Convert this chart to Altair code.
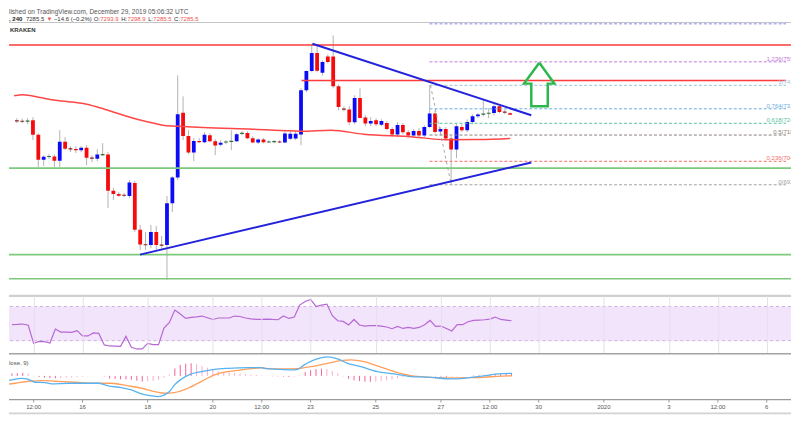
import altair as alt
import pandas as pd
import numpy as np

FONT = "Liberation Sans, Arial, DejaVu Sans, sans-serif"

# ---------------- data (time = hours from 2019-12-16 00:00, 4h candles) ----------------
candle_hours = list(range(-52, 317, 4))
opens = [7254.6, 7253.6, 7250.5, 7257.2, 7182.5, 7053.6, 7069.1, 7070.1, 7048.4, 7146.4,
         7110.3, 7108.7, 7102.6, 7114.4, 7063.9, 7058.7, 7079.3, 7080.4, 6892.7, 6875.7,
         6870.6, 6865.4, 6932.4, 6691.7, 6614.4, 6612.8, 6679.8, 6612.8, 6612.8, 6827.8,
         6961.8, 7295.9, 7176.3, 7090.7, 7150.5, 7143.8, 7179.9, 7149.0, 7130.9, 7143.8,
         7146.4, 7149.0, 7187.6, 7191.7, 7164.4, 7142.3, 7157.7, 7143.8, 7145.4, 7147.4,
         7142.3, 7161.8, 7162.9, 7183.5, 7411.9, 7511.3, 7604.1, 7503.1, 7587.1, 7587.1,
         7432.5, 7316.5, 7312.4, 7246.9, 7372.2, 7271.1, 7240.2, 7257.2, 7234.0, 7243.3,
         7212.4, 7183.5, 7233.0, 7195.4, 7178.3, 7202.0, 7178.3, 7222.7, 7291.7, 7199.0,
         7212.4, 7162.9, 7106.1, 7222.7, 7205.7, 7248.4, 7277.8, 7286.6, 7291.7, 7294.8,
         7329.4, 7300.0, 7293.9]
highs = [7267.5, 7264.9, 7267.5, 7272.7, 7190.2, 7076.8, 7081.9, 7079.3, 7205.7, 7169.6,
         7123.2, 7123.2, 7123.2, 7128.3, 7076.8, 7107.7, 7138.6, 7092.2, 6906.7, 6886.0,
         6880.9, 6947.9, 6942.7, 6716.0, 6679.8, 6716.0, 6710.8, 6659.2, 6865.4, 6968.5,
         7489.2, 7380.9, 7205.7, 7164.4, 7164.4, 7195.4, 7190.2, 7159.3, 7154.1, 7154.1,
         7205.7, 7190.2, 7200.5, 7200.5, 7174.7, 7164.4, 7164.4, 7154.1, 7154.1, 7154.1,
         7200.5, 7200.5, 7200.5, 7422.2, 7515.0, 7651.6, 7649.0, 7566.5, 7597.4, 7695.4,
         7442.8, 7329.4, 7329.4, 7386.1, 7422.2, 7283.0, 7272.7, 7267.5, 7262.3, 7252.1,
         7221.1, 7246.9, 7241.7, 7205.7, 7210.8, 7215.9, 7231.4, 7437.6, 7308.8, 7221.1,
         7221.1, 7174.7, 7236.6, 7236.6, 7262.3, 7288.1, 7293.3, 7360.3, 7319.1, 7339.7,
         7339.7, 7313.9, 7298.9]
lows = [7241.7, 7241.7, 7236.6, 7154.1, 7014.9, 7020.1, 7056.2, 7014.9, 7014.9, 7102.6,
        7092.2, 7087.1, 7092.2, 7025.2, 7040.7, 7045.8, 7071.6, 6803.6, 6844.8, 6860.3,
        6860.3, 6855.1, 6679.8, 6587.1, 6587.1, 6597.3, 6587.1, 6587.1, 6432.4, 6782.9,
        6947.9, 7154.1, 7081.9, 7045.8, 7138.6, 7138.6, 7143.8, 7076.8, 7123.2, 7133.5,
        7102.6, 7143.8, 7179.9, 7159.3, 7138.6, 7133.5, 7138.6, 7138.6, 7138.6, 7138.6,
        7138.6, 7154.1, 7154.1, 7128.3, 7401.5, 7504.6, 7504.6, 7489.2, 7551.0, 7422.2,
        7308.8, 7303.6, 7231.4, 7236.6, 7267.5, 7226.3, 7226.3, 7226.3, 7226.3, 7205.7,
        7169.6, 7169.6, 7185.0, 7164.4, 7169.6, 7169.6, 7169.6, 7215.9, 7190.2, 7179.9,
        7154.1, 6923.7, 7061.3, 7195.4, 7195.4, 7236.6, 7267.5, 7277.8, 7267.5, 7283.0,
        7293.3, 7288.1, 7285.5]
closes = [7253.6, 7250.5, 7254.6, 7182.5, 7053.6, 7069.1, 7070.1, 7048.4, 7146.4, 7110.3,
          7108.7, 7102.6, 7114.4, 7063.9, 7058.7, 7080.4, 7080.4, 6892.7, 6875.7, 6867.0,
          6868.0, 6936.0, 6691.7, 6614.4, 6612.8, 6679.8, 6612.8, 6611.3, 6827.8, 6960.8,
          7288.1, 7176.3, 7090.7, 7150.5, 7143.8, 7182.5, 7149.0, 7126.8, 7140.2, 7145.4,
          7149.0, 7185.0, 7191.7, 7164.4, 7142.3, 7157.7, 7143.8, 7145.4, 7147.4, 7142.3,
          7188.7, 7187.6, 7187.6, 7411.9, 7511.3, 7604.1, 7513.4, 7557.7, 7557.7, 7432.5,
          7325.8, 7312.4, 7246.9, 7372.2, 7269.0, 7240.2, 7253.6, 7236.6, 7253.6, 7212.4,
          7183.5, 7233.0, 7195.4, 7178.3, 7202.0, 7178.3, 7222.7, 7291.7, 7196.9, 7212.4,
          7162.9, 7106.1, 7226.3, 7205.7, 7248.4, 7277.8, 7286.6, 7291.7, 7294.8, 7329.4,
          7300.0, 7298.4, 7285.5]

ma_hours = [-54.1, -47.5, -35.8, -23.3, 0.2, 13.4, 37.7, 50.2, 59.7, 72.2, 86.9, 123.7,
            160.4, 182.4, 206.7, 243.4, 268.4, 292.6, 316.1]
ma_values = [7383.5, 7388.6, 7375.8, 7360.3, 7339.7, 7313.9, 7262.4, 7241.7, 7228.8, 7224.7,
             7219.5, 7210.8, 7200.5, 7205.7, 7185.0, 7171.1, 7156.7, 7157.7, 7162.9]

resistance_full = [7646.4]
resistance_partial = [7462.4]
resistance_partial_start = [160.4]
support_levels = [7009.8, 6562.8, 6437.6]

trend_names = ["upper", "upper", "lower", "lower"]
trend_hours = [168.5, 331.8, 39.9, 331.8]
trend_prices = [7652.6, 7283.0, 6562.8, 7039.1]

fib_ratios = ["0", "0.236", "0.5", "0.618", "0.764", "1", "1.236", "1.618"]
fib_prices = [6923.7, 7045.0, 7180.7, 7241.3, 7316.3, 7437.6, 7558.9, 7755.4]
fib_palette = ["#a3a3a3", "#f26d6d", "#8a7d7d", "#5cc49b", "#6aaede", "#9fc3dc", "#bf79df", "#8a8af2"]
fib_start_hour = 255.9
fib_label_hour = 535.1
fib_diag_hours = [256.6, 272.1]
fib_diag_prices = [7437.6, 6923.7]

arrow_hours = [337.8, 349.0, 344.1, 344.1, 331.8, 331.8, 326.4, 337.8]
arrow_prices = [7554.6, 7446.4, 7446.4, 7329.4, 7329.4, 7446.4, 7446.4, 7554.6]

rsi_values = [48.7, 49.0, 49.5, 48.0, 26.9, 29.2, 28.8, 27.3, 43.6, 40.1,
              40.1, 39.7, 41.7, 35.5, 35.5, 39.0, 38.5, 25.0, 23.8, 23.6,
              23.4, 35.0, 22.2, 20.3, 20.3, 26.9, 25.3, 25.3, 44.8, 51.3,
              65.8, 61.1, 56.0, 57.2, 57.8, 58.8, 56.8, 54.8, 56.5, 56.5,
              56.5, 58.8, 58.3, 56.5, 55.5, 54.8, 54.8, 55.3, 54.8, 54.5,
              58.8, 56.0, 57.6, 71.6, 75.8, 78.2, 70.0, 71.6, 72.8, 59.2,
              53.3, 52.5, 48.3, 54.8, 48.3, 47.1, 47.5, 47.5, 47.1, 46.0,
              44.0, 46.7, 44.3, 45.5, 44.3, 45.5, 48.7, 53.7, 46.7, 47.1,
              44.3, 41.3, 48.7, 48.7, 52.2, 53.7, 54.1, 54.5, 55.3, 57.6,
              54.8, 54.0, 53.3]

macd_hours = [-59.5, -52.2, -44.8, -39.9, -35.0, -27.7, -22.8, -10.5, 0.5, 11.5, 18.9, 28.7,
              36.0, 43.4, 50.7, 55.6, 60.5, 64.1, 67.8, 72.7, 80.1, 87.4, 97.2, 107.0, 121.7,
              131.5, 133.9, 143.8, 153.6, 158.5, 163.3, 170.7, 180.5, 187.9, 195.2, 205.0,
              217.2, 229.4, 241.7, 256.4, 271.1, 280.9, 295.6, 305.4, 316.4]
macd_values = [-50, -40, -24, -34, -64, -67, -80, -74, -74, -74, -100, -117, -140, -180, -200,
               -207, -190, -157, -90, -34, 20, 43, 66, 76, 83, 83, 76, 66, 60, 66, 110, 160,
               190, 170, 126, 93, 43, 20, -7, -14, -30, -24, 0, 20, 26]
signal_hours = [-59.5, -49.7, -39.9, -30.1, -20.4, -5.7, 9.0, 21.3, 33.6, 43.4, 53.1, 60.5,
                67.8, 77.7, 87.4, 97.2, 107.0, 116.8, 131.5, 136.4, 148.6, 158.5, 168.2, 180.5,
                190.3, 197.6, 207.4, 217.2, 229.4, 241.7, 256.4, 271.1, 285.8, 295.6, 305.4, 316.4]
signal_values = [-90, -74, -54, -47, -54, -64, -74, -74, -100, -124, -157, -174, -167, -124,
                 -57, 10, 43, 60, 80, 73, 70, 73, 93, 126, 153, 160, 143, 100, 43, 3, -14, -20,
                 -17, -14, -4, 0]
hist_values = [25, 28, 30, 25, -5, -12, -18, -22, -25, -22,
               -18, -15, -12, -8, -5, -3, -2, -5, -28, -30,
               -35, -35, -38, -48, -58, -55, -50, -40, -18, 15,
               75, 110, 122, 126, 118, 100, 82, 62, 48, 40,
               34, 30, 24, 18, 15, 12, 5, 3, -3, -5,
               -7, -10, -8, 5, 38, 58, 68, 72, 70, 48,
               25, -5, -30, -45, -52, -58, -60, -58, -52, -45,
               -35, -25, -15, -10, -8, -6, -5, -4, -6, -8,
               -10, -8, -5, -3, -2, 4, 6, 10, 12, 16,
               19, 22, 24]

tick_hours = [-36, 0, 48, 96, 132, 168, 216, 264, 300, 336, 384, 432, 468, 504]
tick_labels = ["12:00", "16", "18", "20", "12:00", "23", "25", "27", "12:00", "30",
               "2020", "3", "12:00", "6"]
main_grid_prices = [6400, 6500, 6600, 6700, 6800, 6900, 7000, 7100, 7200, 7300, 7400,
                    7500, 7600, 7700]

# ---------------- layout ----------------
W = 784
H_MAIN, H_RSI, H_MACD = 273, 57, 46
X_DOMAIN = [-54.15, 521.85]
MAIN_DOMAIN = [6355.1, 7762.4]
RSI_DOMAIN = [16.0, 82.5]
MACD_DOMAIN = [-237, 223]
GRID = "#ececec"

def xs(field, axis=None):
    return alt.X(f"{field}:Q", scale=alt.Scale(domain=X_DOMAIN, nice=False, zero=False), axis=axis)

def ys(field, domain, axis=None):
    return alt.Y(f"{field}:Q", scale=alt.Scale(domain=domain, nice=False, zero=False), axis=axis)

def grid_only(values, color=GRID, z=0):
    return alt.Axis(values=values, grid=True, gridColor=color, gridWidth=1, labels=False,
                    ticks=False, domain=False, title=None, minExtent=0, maxExtent=0, zindex=z)

one = pd.DataFrame({"k": [0]})

# ---------- candles ----------
c = pd.DataFrame({"h": candle_hours, "o": opens, "hi": highs, "lo": lows, "c": closes})
d = c["c"] - c["o"]
mid = (c["o"] + c["c"]) / 2
small = d.abs() < 6
c["top"] = np.where(small, mid + 3, np.maximum(c["o"], c["c"]))
c["bot"] = np.where(small, mid - 3, np.minimum(c["o"], c["c"]))
c["kind"] = np.where(d >= 0, np.where(small, "updoji", "up"), np.where(small, "downdoji", "down"))

wicks = alt.Chart(c).mark_rule(color="#b3b3b3", strokeWidth=1, clip=True).encode(
    x=xs("h", grid_only(tick_hours)),
    y=ys("lo", MAIN_DOMAIN, grid_only(main_grid_prices)),
    y2=alt.Y2("hi"))
bodies = alt.Chart(c).mark_bar(size=3.8, clip=True).encode(
    x=xs("h"), y=ys("bot", MAIN_DOMAIN), y2=alt.Y2("top"),
    color=alt.Color("kind:N", legend=None,
                    scale=alt.Scale(domain=["up", "down", "updoji", "downdoji"],
                                    range=["#0b0bf5", "#f50b0b", "#2f6b3b", "#8b1c1c"])))

ma = alt.Chart(pd.DataFrame({"h": ma_hours, "p": ma_values})).mark_line(
    color="#ff4747", strokeWidth=1.5, clip=True, interpolate="monotone").encode(
    x=xs("h"), y=ys("p", MAIN_DOMAIN))

red_full = alt.Chart(pd.DataFrame({"p": resistance_full})).mark_rule(
    color="#ff3a3a", strokeWidth=1.6, clip=True).encode(y=ys("p", MAIN_DOMAIN))
red_part = alt.Chart(pd.DataFrame({"p": resistance_partial, "h0": resistance_partial_start,
                                   "h1": [X_DOMAIN[1]]})).mark_rule(
    color="#ff3a3a", strokeWidth=1.6, clip=True).encode(
    x=xs("h0"), x2=alt.X2("h1"), y=ys("p", MAIN_DOMAIN))
green = alt.Chart(pd.DataFrame({"p": support_levels})).mark_rule(
    color="#7dca7d", strokeWidth=1.6, clip=True).encode(y=ys("p", MAIN_DOMAIN))

fib = pd.DataFrame({"ratio": fib_ratios, "p": fib_prices,
                    "h0": [fib_start_hour] * len(fib_ratios), "h1": [X_DOMAIN[1]] * len(fib_ratios),
                    "lh": [fib_label_hour] * len(fib_ratios)})
fib["label"] = [f"{r}({p:.1f})" for r, p in zip(fib_ratios, fib_prices)]
fib_color = alt.Color("ratio:N", legend=None, scale=alt.Scale(domain=fib_ratios, range=fib_palette))
fib_lines = alt.Chart(fib).mark_rule(strokeWidth=1, strokeDash=[3, 2], clip=True).encode(
    x=xs("h0"), x2=alt.X2("h1"), y=ys("p", MAIN_DOMAIN), color=fib_color)
fib_text = alt.Chart(fib).mark_text(align="right", baseline="middle", dy=-3, fontSize=6,
                                    font=FONT, clip=True).encode(
    x=xs("lh"), y=ys("p", MAIN_DOMAIN), text="label:N", color=fib_color)
fib_diag = alt.Chart(pd.DataFrame({"h": fib_diag_hours, "p": fib_diag_prices})).mark_line(
    color="#a8a8a8", strokeWidth=1, strokeDash=[3, 3], clip=True).encode(
    x=xs("h"), y=ys("p", MAIN_DOMAIN))

trend = alt.Chart(pd.DataFrame({"name": trend_names, "h": trend_hours, "p": trend_prices})).mark_line(
    color="#2323dc", strokeWidth=2, clip=True).encode(
    x=xs("h"), y=ys("p", MAIN_DOMAIN), detail="name:N")

arrow = alt.Chart(pd.DataFrame({"i": list(range(len(arrow_hours))), "h": arrow_hours,
                                "p": arrow_prices})).mark_line(
    color="#2db84c", strokeWidth=2.5, strokeJoin="miter", clip=True).encode(
    x=xs("h"), y=ys("p", MAIN_DOMAIN), order="i:Q")

top_border = alt.Chart(one).mark_rect(color="#c4c4c4").encode(
    x=alt.value(0), x2=alt.value(W), y=alt.value(-0.5), y2=alt.value(0.6))
kraken = alt.Chart(one).mark_text(align="left", baseline="middle", fontSize=6, font=FONT,
                                  fontWeight="bold", color="#333").encode(
    x=alt.value(1), y=alt.value(7.5), text=alt.value("KRAKEN"))

header_layers = [alt.Chart(one).mark_text(align="left", baseline="top", fontSize=6.5, font=FONT,
                                          color="#555").encode(
    x=alt.value(0), y=alt.value(-14),
    text=alt.value("lished on TradingView.com, December 29, 2019 05:06:32 UTC"))]
RED_T = "#ef5350"
segments = [(", 240", 0, "#222", "bold"), ("7285.5", 17.0, "#333", "normal"),
            ("▼", 37.5, RED_T, "normal"), ("−14.6 (−0.2%)", 45.0, "#333", "normal"),
            ("O:", 85.0, "#333", "normal"), ("7293.9", 91.5, RED_T, "normal"),
            ("H:", 112.5, "#333", "normal"), ("7298.9", 118.7, RED_T, "normal"),
            ("L:", 139.5, "#333", "normal"), ("7285.5", 144.7, RED_T, "normal"),
            ("C:", 165.5, "#333", "normal"), ("7285.5", 171.7, RED_T, "normal")]
for txt, xpos, col, wt in segments:
    header_layers.append(alt.Chart(one).mark_text(align="left", baseline="top", fontSize=6,
                                                  font=FONT, color=col, fontWeight=wt).encode(
        x=alt.value(xpos), y=alt.value(-6.5), text=alt.value(txt)))

main = alt.layer(wicks, bodies, ma, red_full, red_part, green, fib_lines, fib_diag, fib_text,
                 trend, arrow, top_border, kraken, *header_layers).resolve_scale(
    color="independent").properties(width=W, height=H_MAIN)

# ---------- RSI ----------
band = alt.Chart(pd.DataFrame({"lo": [30], "hi": [70]})).mark_rect(color="#f2e4fb").encode(
    y=ys("lo", RSI_DOMAIN), y2=alt.Y2("hi"))
levels = alt.Chart(pd.DataFrame({"v": [30, 70]})).mark_rule(
    color="#cdb0dd", strokeDash=[3, 3], strokeWidth=1).encode(y=ys("v", RSI_DOMAIN))
rsi_line = alt.Chart(pd.DataFrame({"h": candle_hours, "v": rsi_values})).mark_line(
    color="#b668d5", strokeWidth=1.2, clip=True).encode(
    x=xs("h", grid_only(tick_hours, "#e6e0ea", 1)),
    y=ys("v", RSI_DOMAIN, grid_only([40, 60], "#e3dbe8", 1)))
sep1 = alt.Chart(one).mark_rect(color="#cfcfcf").encode(
    x=alt.value(0), x2=alt.value(W), y=alt.value(-1), y2=alt.value(1.2))
rsi = alt.layer(band, levels, rsi_line, sep1).properties(width=W, height=H_RSI)

# ---------- MACD ----------
hd = pd.DataFrame({"h": candle_hours, "v": hist_values})
prev = hd["v"].shift(1).fillna(0)
hd["kind"] = np.where(hd["v"].abs() >= prev.abs(), "grow", "fall")
hist = alt.Chart(hd).mark_rule(strokeWidth=1, clip=True).encode(
    x=xs("h", grid_only(tick_hours)), y=ys("v", MACD_DOMAIN, grid_only([-150, 0, 150])),
    y2=alt.datum(0),
    color=alt.Color("kind:N", legend=None,
                    scale=alt.Scale(domain=["grow", "fall"], range=["#f2639a", "#f8aecb"])))
macd_line = alt.Chart(pd.DataFrame({"h": macd_hours, "v": macd_values})).mark_line(
    color="#5ab2f0", strokeWidth=1.3, clip=True, interpolate="monotone").encode(
    x=xs("h"), y=ys("v", MACD_DOMAIN))
signal_line = alt.Chart(pd.DataFrame({"h": signal_hours, "v": signal_values})).mark_line(
    color="#ffa05c", strokeWidth=1.3, clip=True, interpolate="monotone").encode(
    x=xs("h"), y=ys("v", MACD_DOMAIN))
macd_title = alt.Chart(one).mark_text(align="left", baseline="middle", fontSize=6, font=FONT,
                                      color="#555").encode(
    x=alt.value(0), y=alt.value(9), text=alt.value("lose, 9)"))
sep2 = alt.Chart(one).mark_rect(color="#a3a3a3").encode(
    x=alt.value(0), x2=alt.value(W), y=alt.value(-0.6), y2=alt.value(0.8))

ticks_df = pd.DataFrame({"h": tick_hours, "label": tick_labels})
axis_line = alt.Chart(one).mark_rect(color="#9a9a9a").encode(
    x=alt.value(0), x2=alt.value(W), y=alt.value(H_MACD - 0.6), y2=alt.value(H_MACD + 0.7))
tick_marks = alt.Chart(ticks_df).mark_rule(color="#9a9a9a", strokeWidth=1).encode(
    x=xs("h"), y=alt.value(H_MACD), y2=alt.value(H_MACD + 3))
tick_text = alt.Chart(ticks_df).mark_text(align="center", baseline="middle", fontSize=6,
                                          font=FONT, color="#555").encode(
    x=xs("h"), y=alt.value(H_MACD + 8), text="label:N")
bottom_border = alt.Chart(one).mark_rect(color="#d2d2d2").encode(
    x=alt.value(0), x2=alt.value(W), y=alt.value(H_MACD + 13), y2=alt.value(H_MACD + 14.8))
macd = alt.layer(hist, signal_line, macd_line, macd_title, sep2, axis_line, tick_marks,
                 tick_text, bottom_border).properties(width=W, height=H_MACD)

chart = alt.vconcat(main, rsi, macd, spacing=0).properties(
    padding={"left": 0, "right": 0, "top": 0, "bottom": 0}, background="white"
).configure_view(stroke=None)

chart.save("out.html", embed_options={"renderer": "svg", "actions": False})
